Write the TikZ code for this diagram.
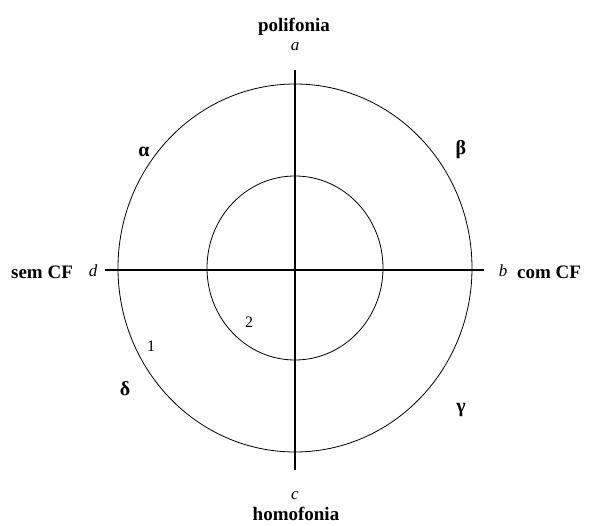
\documentclass[tikz,border=0pt]{standalone}
\usepackage{fontspec}
\setmainfont{Liberation Serif}
\begin{document}
\begin{tikzpicture}[x=1pt,y=-1pt,
  axis/.style={line width=1.6pt},
  ring/.style={line width=0.8pt},
  big/.style={font=\fontsize{19}{19}\selectfont\bfseries, inner sep=0pt},
  pt/.style={font=\fontsize{17}{17}\selectfont\itshape, inner sep=0pt},
  greek/.style={font=\fontsize{20}{20}\selectfont\bfseries, inner sep=0pt},
  num/.style={font=\fontsize{16}{16}\selectfont, inner sep=0pt}]
\useasboundingbox (0,0) rectangle (590,526);
\coordinate (O) at (295,268);
\draw[ring] (O) ellipse [x radius=177, y radius=184];
\draw[ring] (O) ellipse [x radius=88, y radius=92];
\coordinate (top) at (295,70);
\coordinate (bot) at (295,470);
\coordinate (lft) at (105,270);
\coordinate (rgt) at (484,270);
\draw[axis] (top) -- (bot);
\draw[axis] (lft) -- (rgt);
\node[big] (poli) at (294,27) {polifonia};
\node[pt] (a) at (295,47) {a};
\node[big] (homo) at (296,514) {homofonia};
\node[pt] (c) at (295,496) {c};
\node[big] (sem) at (42,272) {sem CF};
\node[pt] (d) at (93,271) {d};
\node[pt] (b) at (503,271) {b};
\node[big] (com) at (549,272) {com CF};
\node[greek] (al) at (144,152) {α};
\node[greek] (be) at (461,150) {β};
\node[greek] (ga) at (461,410) {γ};
\node[greek] (de) at (125,389) {δ};
\node[num] (one) at (151,346) {1};
\node[num] (two) at (249,322) {2};
\end{tikzpicture}
\end{document}
